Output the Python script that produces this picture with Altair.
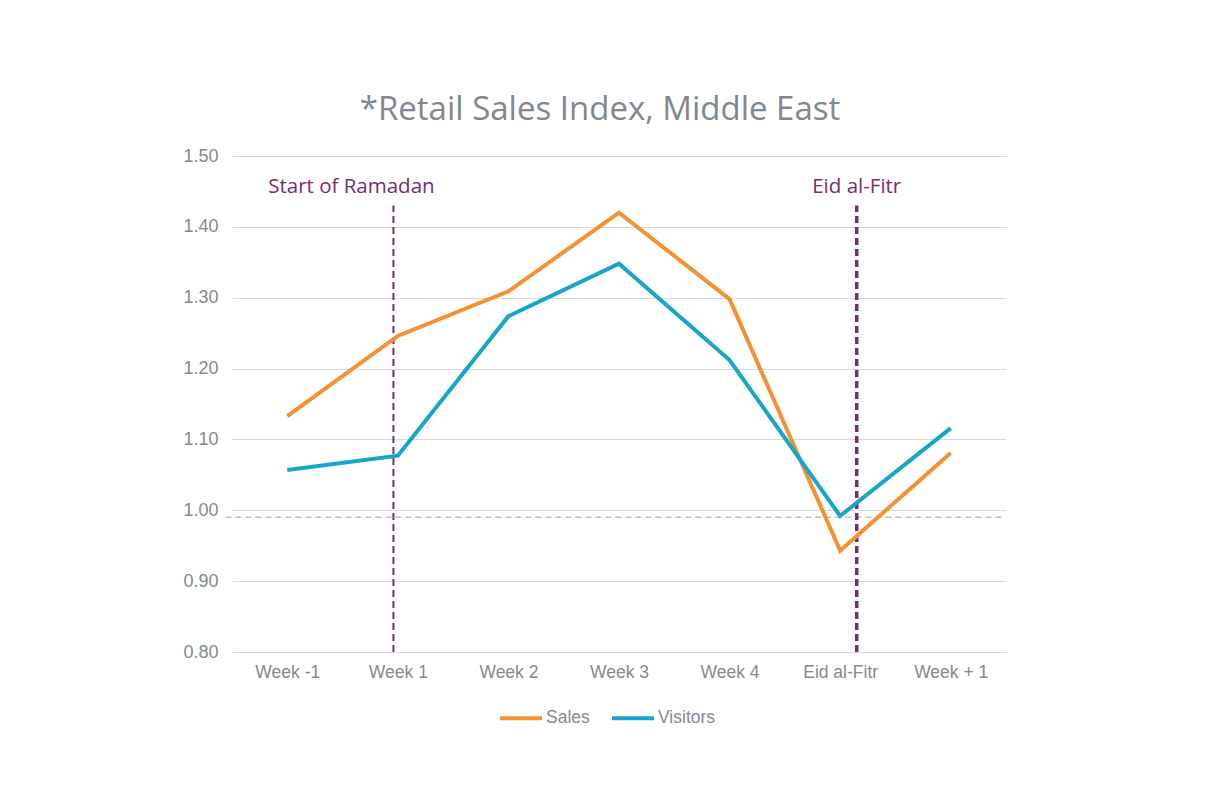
import altair as alt
import pandas as pd

categories = ["Week -1", "Week 1", "Week 2", "Week 3", "Week 4", "Eid al-Fitr", "Week + 1"]
sales = [1.133, 1.246, 1.309, 1.420, 1.298, 0.943, 1.081]
visitors = [1.057, 1.077, 1.274, 1.348, 1.212, 0.992, 1.116]

event_labels = ["Start of Ramadan", "Eid al-Fitr"]
event_pos = [0.96, 5.15]
event_label_pos = [0.58, 5.15]
event_width = [2, 3.5]
baseline_value = 0.99

rows = []
for i, c in enumerate(categories):
    rows.append({"idx": i, "cat": c, "series": "Sales", "value": sales[i]})
    rows.append({"idx": i, "cat": c, "series": "Visitors", "value": visitors[i]})
df = pd.DataFrame(rows)

ev = pd.DataFrame({"label": event_labels, "pos": event_pos, "lpos": event_label_pos,
                   "w": event_width, "y0": [0.80, 0.80], "y1": [1.43, 1.43], "ly": [1.456, 1.456]})
base = pd.DataFrame({"y": [baseline_value], "x0": [-0.56], "x1": [6.47]})

label_expr = "[" + ",".join("'" + c + "'" for c in categories) + "][datum.value]"

xscale = alt.Scale(domain=[-0.5, 6.5], nice=False, zero=False)
yscale = alt.Scale(domain=[0.8, 1.5], nice=False, zero=False)

xaxis = alt.Axis(values=list(range(len(categories))), labelExpr=label_expr, title=None,
                 ticks=False, domain=False, grid=False, labelFont="Liberation Sans",
                 labelFontSize=17.5, labelColor="#848a90", labelPadding=11)
yaxis = alt.Axis(values=[0.8, 0.9, 1.0, 1.1, 1.2, 1.3, 1.4, 1.5], format=".2f", title=None,
                 ticks=False, domain=False, grid=True, gridColor="#d9d9d9", gridWidth=1.2,
                 labelFont="Liberation Sans", labelFontSize=18, labelColor="#848a90",
                 labelPadding=14)

lines = alt.Chart(df).mark_line(strokeWidth=4, strokeJoin="miter").encode(
    x=alt.X("idx:Q", scale=xscale, axis=xaxis),
    y=alt.Y("value:Q", scale=yscale, axis=yaxis),
    color=alt.Color("series:N",
                    scale=alt.Scale(domain=["Sales", "Visitors"], range=["#F5912F", "#16A6C9"]),
                    legend=alt.Legend(title=None, orient="none", legendX=266, legendY=539,
                                      direction="horizontal", symbolType="stroke",
                                      symbolSize=1764, symbolStrokeWidth=4,
                                      labelFont="Liberation Sans", labelFontSize=17.5,
                                      labelColor="#848a90", labelOffset=2, columnPadding=14)),
)

baseline = alt.Chart(base).mark_rule(color="#bdbdbd", strokeDash=[6, 4], strokeWidth=1.5).encode(
    x=alt.X("x0:Q", scale=xscale), x2="x1:Q", y=alt.Y("y:Q", scale=yscale)
)

vrules = alt.Chart(ev).mark_rule(color="#7B2C6E", strokeDash=[7, 4]).encode(
    x=alt.X("pos:Q", scale=xscale), y=alt.Y("y0:Q", scale=yscale), y2="y1:Q",
    strokeWidth=alt.StrokeWidth("w:Q", scale=None, legend=None),
)

vtext = alt.Chart(ev).mark_text(color="#7B2C6E", font="Open Sans", fontSize=20.5, align="center",
                                baseline="middle").encode(
    x=alt.X("lpos:Q", scale=xscale), y=alt.Y("ly:Q", scale=yscale), text="label:N"
)

chart = alt.layer(baseline, vrules, lines, vtext).properties(
    width=774, height=496,
    background="white",
    title=alt.TitleParams("*Retail Sales Index, Middle East", font="Open Sans", fontSize=33,
                          fontWeight="normal", color="#808890", anchor="middle",
                          offset=20, dx=-19),
    autosize=alt.AutoSizeParams(type="none"),
    padding={"left": 224, "top": 148, "right": 190, "bottom": 130},
).configure_view(stroke=None)

chart.save("out.html", embed_options={"renderer": "svg", "actions": False})
